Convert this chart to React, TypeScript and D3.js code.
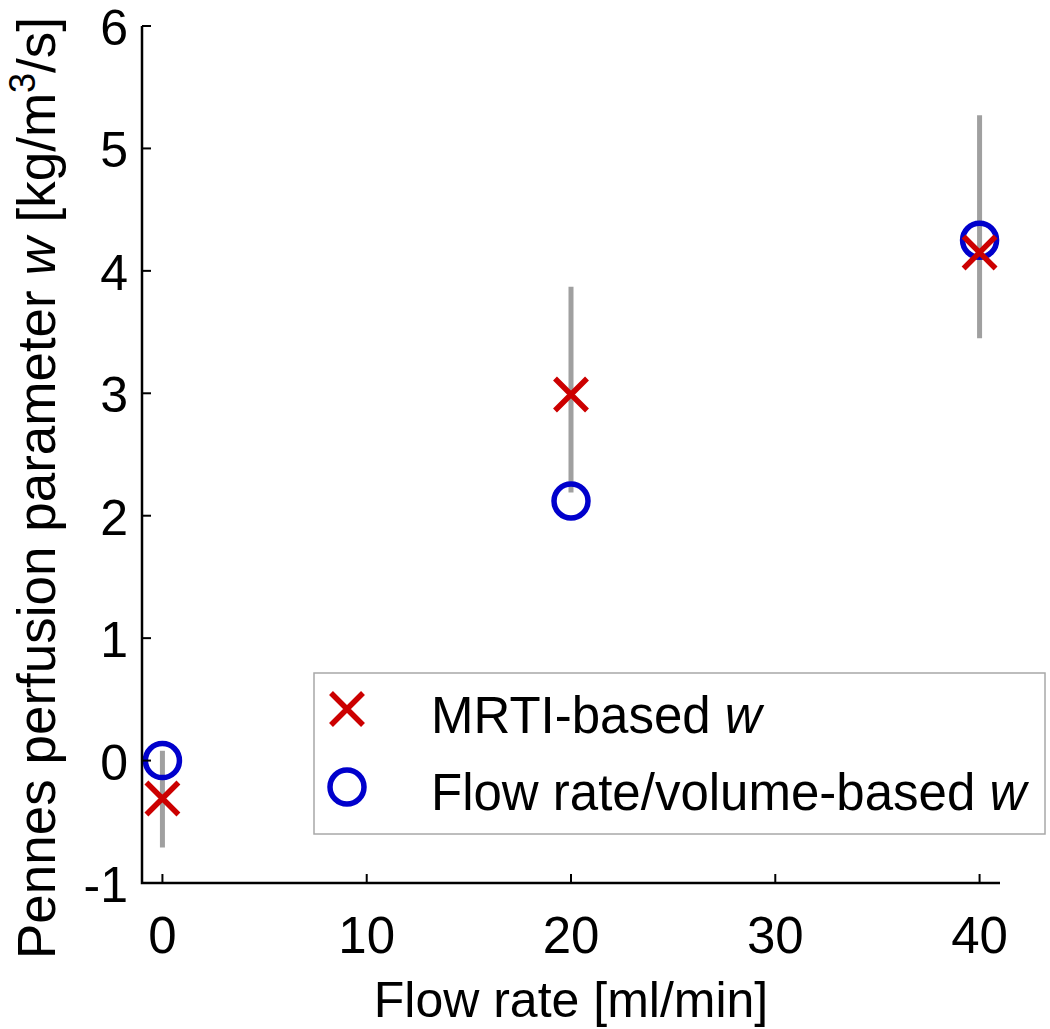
import React, { useEffect, useRef } from "react";
import * as d3 from "d3";

// flow rate [ml/min]
const flowRates = [0, 20, 40];
// MRTI-based w with error range
const mrtiW = [-0.31, 2.99, 4.15];
const mrtiLow = [-0.71, 2.19, 3.45];
const mrtiHigh = [0.08, 3.87, 5.27];
// flow rate / volume based w
const flowW = [0.0, 2.12, 4.25];

const xTicks = [0, 10, 20, 30, 40];
const yTicks = [-1, 0, 1, 2, 3, 4, 5, 6];

const W = 1050;
const H = 1029;
const FONT = "'Liberation Sans', Arial, Helvetica, sans-serif";

function App() {
  const ref = useRef<SVGSVGElement>(null);

  useEffect(() => {
    const svg = d3.select(ref.current);
    svg.selectAll("*").remove();

    const x = d3.scaleLinear().domain([-1, 41]).range([142, 1000]);
    const y = d3.scaleLinear().domain([-1, 6]).range([883, 26]);

    const red = "#cc0000";
    const blue = "#0000cc";
    const grey = "#a0a0a0";

    // error bars
    svg
      .selectAll(".err")
      .data(flowRates)
      .enter()
      .append("line")
      .attr("x1", (d) => x(d))
      .attr("x2", (d) => x(d))
      .attr("y1", (d, i) => y(mrtiLow[i]))
      .attr("y2", (d, i) => y(mrtiHigh[i]))
      .style("stroke", grey)
      .style("stroke-width", 5);

    const cross = (g: any, cx: number, cy: number) => {
      const s = 16;
      g.append("path")
        .attr("d", `M${cx - s},${cy - s}L${cx + s},${cy + s}M${cx - s},${cy + s}L${cx + s},${cy - s}`)
        .style("stroke", red)
        .style("stroke-width", 5.5)
        .style("fill", "none");
    };
    const ring = (g: any, cx: number, cy: number) => {
      g.append("circle")
        .attr("cx", cx)
        .attr("cy", cy)
        .attr("r", 17)
        .style("stroke", blue)
        .style("stroke-width", 5.5)
        .style("fill", "none");
    };

    flowRates.forEach((f, i) => ring(svg, x(f), y(flowW[i])));
    flowRates.forEach((f, i) => cross(svg, x(f), y(mrtiW[i])));

    // axes (left + bottom only, ticks inward)
    svg
      .append("path")
      .attr("d", `M${x(-1)},${y(6)}V${y(-1)}H${x(41)}`)
      .style("stroke", "#000")
      .style("stroke-width", 2.5)
      .style("fill", "none");

    svg
      .selectAll(".xtick")
      .data(xTicks)
      .enter()
      .append("line")
      .attr("x1", (d) => x(d))
      .attr("x2", (d) => x(d))
      .attr("y1", y(-1))
      .attr("y2", y(-1) - 9)
      .style("stroke", "#000")
      .style("stroke-width", 2);

    svg
      .selectAll(".ytick")
      .data(yTicks)
      .enter()
      .append("line")
      .attr("x1", x(-1))
      .attr("x2", x(-1) + 9)
      .attr("y1", (d) => y(d))
      .attr("y2", (d) => y(d))
      .style("stroke", "#000")
      .style("stroke-width", 2);

    svg
      .selectAll(".xlab")
      .data(xTicks)
      .enter()
      .append("text")
      .attr("x", (d) => x(d))
      .attr("y", 953)
      .attr("text-anchor", "middle")
      .style("font-family", FONT)
      .style("font-size", "51px")
      .text((d) => d);

    svg
      .selectAll(".ylab")
      .data(yTicks)
      .enter()
      .append("text")
      .attr("x", 128)
      .attr("y", (d) => y(d) + 19)
      .attr("text-anchor", "end")
      .style("font-family", FONT)
      .style("font-size", "50px")
      .text((d) => d);

    svg
      .append("text")
      .attr("x", 571)
      .attr("y", 1017)
      .attr("text-anchor", "middle")
      .style("font-family", FONT)
      .style("font-size", "50px")
      .text("Flow rate [ml/min]");

    const yl = svg
      .append("text")
      .attr("transform", "translate(55,488) rotate(-90)")
      .attr("text-anchor", "middle")
      .style("font-family", FONT)
      .style("font-size", "53px");
    yl.append("tspan").text("Pennes perfusion parameter ");
    yl.append("tspan").style("font-style", "italic").text("w");
    yl.append("tspan").text(" [kg/m");
    yl.append("tspan").attr("dy", -20).style("font-size", "36px").text("3");
    yl.append("tspan").attr("dy", 20).text("/s]");

    // legend
    svg
      .append("rect")
      .attr("x", 314)
      .attr("y", 673)
      .attr("width", 731)
      .attr("height", 161)
      .style("fill", "#fff")
      .style("stroke", "#a8a8a8")
      .style("stroke-width", 1.5);

    cross(svg, 347, 709);
    ring(svg, 347, 787);

    const l1 = svg
      .append("text")
      .attr("x", 431)
      .attr("y", 733)
      .style("font-family", FONT)
      .style("font-size", "51px");
    l1.append("tspan").text("MRTI-based ");
    l1.append("tspan").style("font-style", "italic").text("w");

    const l2 = svg
      .append("text")
      .attr("x", 431)
      .attr("y", 810)
      .style("font-family", FONT)
      .style("font-size", "51px");
    l2.append("tspan").text("Flow rate/volume-based ");
    l2.append("tspan").style("font-style", "italic").text("w");
  }, []);

  return (
    <svg
      ref={ref}
      width={W}
      height={H}
      style={{ position: "absolute", left: 0, top: 0, background: "#fff" }}
    ></svg>
  );
}

export default App;
